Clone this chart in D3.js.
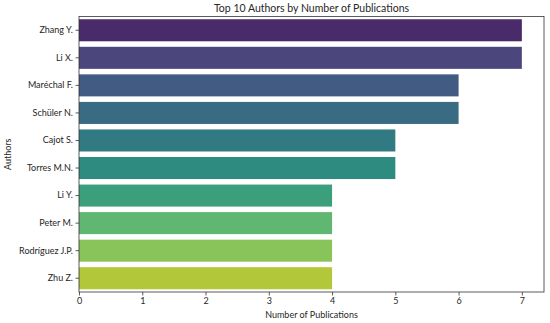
<!DOCTYPE html>
<html>
<head>
<meta charset="utf-8">
<script src="https://cdn.jsdelivr.net/npm/d3@7"></script>
<style>
  body { margin: 0; background: #fff; }
  text { font-family: Lato, "Noto Sans", sans-serif; fill: #262626; }
</style>
</head>
<body>
<div id="chart"></div>
<script>
// Data
var authors = ["Zhang Y.", "Li X.", "Maréchal F.", "Schüler N.", "Cajot S.",
               "Torres M.N.", "Li Y.", "Peter M.", "Rodríguez J.P.", "Zhu Z."];
var publications = [7, 7, 6, 6, 5, 5, 4, 4, 4, 4];
var xTicks = [0, 1, 2, 3, 4, 5, 6, 7];

var w = 550;
var h = 323;
var margin = {top: 16.5, right: 6, bottom: 31, left: 79};
var iw = w - margin.left - margin.right;
var ih = h - margin.top - margin.bottom;

var svg = d3.select("#chart").append("svg").attr("width", w).attr("height", h);
var g = svg.append("g").attr("transform", "translate(" + margin.left + "," + margin.top + ")");

var x = d3.scaleLinear().domain([0, d3.max(publications) * 1.05]).range([0, iw]);
var y = d3.scaleBand().domain(authors).range([0, ih]).paddingInner(0.2).paddingOuter(0.1);

// seaborn style palette: viridis, slightly desaturated
function barColor(i) {
    var c = d3.hsl(d3.interpolateViridis((i + 1) / (authors.length + 1)));
    c.s = c.s * 0.75;
    return c.formatHex();
}

// Bars
g.selectAll("rect.bar")
    .data(authors)
    .enter()
    .append("rect")
    .attr("class", "bar")
    .attr("x", x(0))
    .attr("y", function(d) { return y(d); })
    .attr("width", function(d, i) { return x(publications[i]) - x(0); })
    .attr("height", y.bandwidth())
    .attr("fill", function(d, i) { return barColor(i); });

// Axes
var xAxis = g.append("g")
    .attr("transform", "translate(0," + ih + ")")
    .call(d3.axisBottom(x).tickValues(xTicks).tickSize(3.5).tickPadding(2.5));
var yAxis = g.append("g")
    .call(d3.axisLeft(y).tickSize(3.5).tickPadding(2.5));

[xAxis, yAxis].forEach(function(a) {
    a.select(".domain").remove();
    a.selectAll("line").attr("stroke", "#333").attr("stroke-width", 0.8);
    a.selectAll("text").attr("font-size", "9px").attr("font-family", "Lato, sans-serif").attr("fill", "#262626");
});

// Frame
g.append("rect")
    .attr("x", 0).attr("y", 0)
    .attr("width", iw).attr("height", ih)
    .attr("fill", "none")
    .attr("stroke", "#333")
    .attr("stroke-width", 0.8);

// Title and labels
svg.append("text")
    .text("Top 10 Authors by Number of Publications")
    .attr("x", margin.left + iw / 2)
    .attr("y", 11.5)
    .attr("text-anchor", "middle")
    .attr("font-size", "10.5px");

svg.append("text")
    .text("Number of Publications")
    .attr("x", margin.left + iw / 2)
    .attr("y", 318)
    .attr("text-anchor", "middle")
    .attr("font-size", "9px");

svg.append("text")
    .text("Authors")
    .attr("transform", "translate(11," + (margin.top + ih / 2) + ") rotate(-90)")
    .attr("text-anchor", "middle")
    .attr("font-size", "9px");
</script>
</body>
</html>
